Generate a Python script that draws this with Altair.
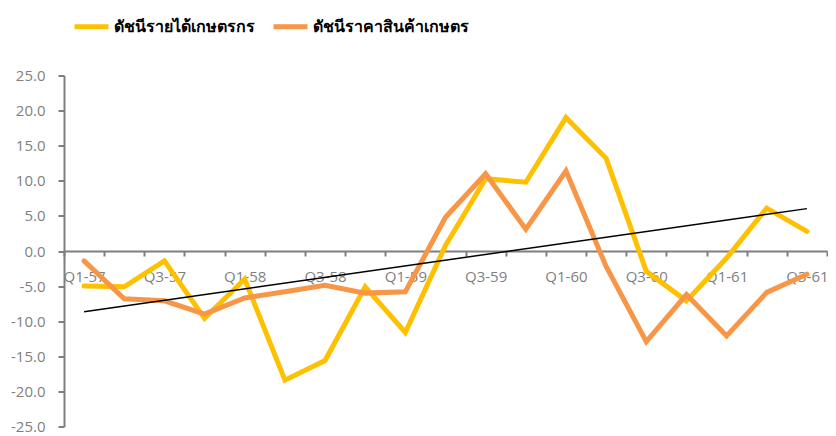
import json
import altair as alt
import pandas as pd

quarters = [
    "Q1-57", "Q2-57", "Q3-57", "Q4-57",
    "Q1-58", "Q2-58", "Q3-58", "Q4-58",
    "Q1-59", "Q2-59", "Q3-59", "Q4-59",
    "Q1-60", "Q2-60", "Q3-60", "Q4-60",
    "Q1-61", "Q2-61", "Q3-61",
]
income_name = "ดัชนีรายได้เกษตรกร"
price_name = "ดัชนีราคาสินค้าเกษตร"
income = [-5.0, -5.1, -1.4, -9.6, -4.0, -18.4, -15.6, -5.1, -11.6, 0.8,
          10.3, 9.8, 19.0, 13.2, -2.9, -7.1, -1.0, 6.1, 2.8]
price = [-1.4, -6.8, -7.1, -9.0, -6.7, -5.8, -4.9, -6.0, -5.8, 4.8,
         11.0, 3.1, 11.4, -2.2, -12.9, -6.2, -12.1, -5.9, -3.3]
series_names = [income_name, price_name]
series_colors = ["#FFC000", "#F79646"]
y_ticks = [-25, -20, -15, -10, -5, 0, 5, 10, 15, 20, 25]

rows = []
for name, vals in zip(series_names, [income, price]):
    for i, (q, v) in enumerate(zip(quarters, vals)):
        rows.append({"series": name, "quarter": q, "idx": i, "value": v})
df = pd.DataFrame(rows)

W, H = 763, 351
label_font = "Open Sans"
grey = "#7F7F7F"

x_enc = alt.X(
    "quarter:O",
    bandPosition=0.5,
    scale=alt.Scale(type="band", domain=quarters, paddingInner=0, paddingOuter=0),
    axis=alt.Axis(
        title=None,
        offset=-H / 2,
        tickBand="extent",
        tickSize=5,
        tickColor=grey,
        domainColor=grey,
        domainWidth=2,
        tickWidth=2,
        labelAngle=0,
        labelPadding=13,
        labelFont=label_font,
        labelFontSize=15,
        labelColor=grey,
        labelExpr="(substring(datum.label,0,2)=='Q2' || substring(datum.label,0,2)=='Q4') ? '' : datum.label",
    ),
)

y_enc = alt.Y(
    "value:Q",
    scale=alt.Scale(domain=[-25, 25], nice=False, zero=False),
    axis=alt.Axis(
        title=None,
        values=y_ticks,
        grid=False,
        tickSize=6,
        tickColor=grey,
        domainColor=grey,
        domainWidth=2,
        tickWidth=2,
        labelPadding=13,
        labelFont=label_font,
        labelFontSize=15,
        labelColor=grey,
        labelExpr="replace(format(datum.value, '.1f'), '\u2212', '-')",
    ),
)

lines = alt.Chart(df).mark_line(strokeWidth=5, strokeJoin="miter", strokeCap="round").encode(
    x=x_enc,
    y=y_enc,
    color=alt.Color(
        "series:N",
        scale=alt.Scale(domain=series_names, range=series_colors),
        sort=series_names,
        legend=alt.Legend(
            title=None,
            orient="none",
            legendX=8,
            legendY=-68.5,
            direction="horizontal",
            columns=2,
            columnPadding=8,
            symbolType="stroke",
            symbolStrokeWidth=5,
            symbolSize=1150,
            labelFontSize=16,
            labelFontWeight="bold",
            labelColor="#000000",
            labelOffset=3,
            labelLimit=0,
            padding=0,
        ),
    ),
    detail="series:N",
)

qlist = json.dumps(quarters)
trend = (
    alt.Chart(df)
    .transform_filter(alt.datum.series == income_name)
    .transform_regression("idx", "value", extent=[0, 18])
    .transform_calculate(quarter=f"{qlist}[round(datum.idx)]")
    .mark_line(color="#000000", strokeWidth=1.5)
    .encode(x=x_enc, y=y_enc)
)

chart = (
    alt.layer(lines, trend)
    .properties(
        width=W,
        height=H,
        autosize=alt.AutoSizeParams(type="none"),
        padding={"left": 56, "top": 67.5, "right": 1, "bottom": 8},
    )
    .configure_view(stroke=None)
)

chart.save("out.html", embed_options={"renderer": "svg", "actions": False})
